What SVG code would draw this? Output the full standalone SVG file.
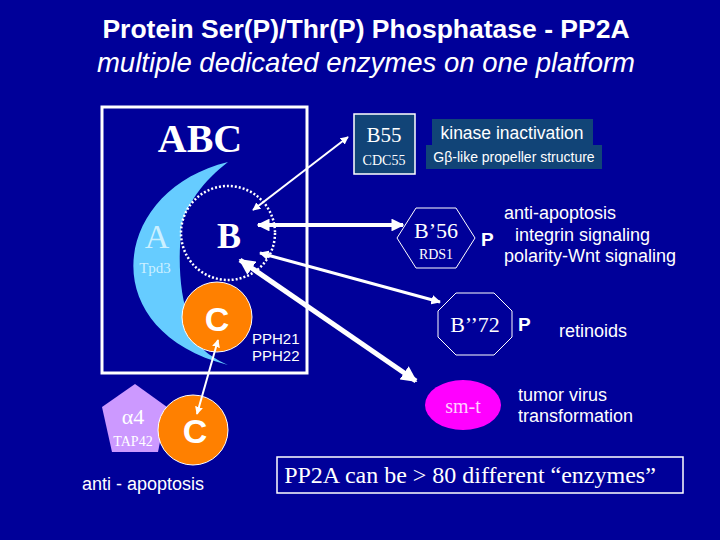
<svg xmlns="http://www.w3.org/2000/svg" width="720" height="540" viewBox="0 0 720 540">
<style>
.w{fill:#fff}
.a{font-family:"Liberation Sans",Arial,sans-serif}
.s{font-family:"Liberation Serif","Times New Roman",serif}
.ln{stroke:#fff;fill:none}
</style>
<defs>
<marker id="h" viewBox="0 0 10 10" refX="9" refY="5" markerWidth="4" markerHeight="4" orient="auto-start-reverse"><path d="M0,0L10,5L0,10z" fill="#fff"/></marker>
<marker id="hb" viewBox="0 0 10 10" refX="9" refY="5" markerWidth="3.2" markerHeight="3.2" orient="auto-start-reverse"><path d="M0,0L10,5L0,10z" fill="#fff"/></marker>
</defs>
<rect width="720" height="540" fill="#000099"/>
<text class="a w" x="366" y="38" font-size="26.5" font-weight="bold" text-anchor="middle">Protein Ser(P)/Thr(P) Phosphatase - PP2A</text>
<text class="a w" x="366" y="72" font-size="27.5" font-style="italic" text-anchor="middle">multiple dedicated enzymes on one platform</text>
<g id="abc">
<rect x="102" y="107" width="205" height="266" class="ln" stroke-width="3"/>
<text class="s w" x="200" y="152" font-size="40" font-weight="bold" text-anchor="middle">ABC</text>
</g>
<g id="A">
<path d="M228,162 C112,190 92,330 228,365 C205,355 190,340 190,320 C180,300 178,260 181,235 C183,205 205,180 228,162Z" fill="#66ccff"/>
<text class="s" x="157" y="248" font-size="34" fill="#ccf0ff" text-anchor="middle">A</text>
<text class="s" x="155" y="273" font-size="15" fill="#ccf0ff" text-anchor="middle">Tpd3</text>
</g>
<g id="B">
<circle cx="228" cy="233" r="47" fill="#000099" stroke="#fff" stroke-width="2.5" stroke-dasharray="2,2"/>
<text class="s w" x="229" y="248" font-size="36" font-weight="bold" text-anchor="middle">B</text>
</g>
<g id="C1">
<circle cx="217" cy="317" r="35" fill="#ff8000" stroke="#fff" stroke-width="1"/>
<text class="a w" x="217" y="331" font-size="34" font-weight="bold" text-anchor="middle">C</text>
<text class="a w" x="252" y="344" font-size="15">PPH21</text>
<text class="a w" x="252" y="361" font-size="15">PPH22</text>
</g>
<g id="alpha4">
<polygon points="135,384 167,407 158,452 112,452 102,407" fill="#cc99ff"/>
<text class="s w" x="133" y="424" font-size="22" text-anchor="middle">α4</text>
<text class="s w" x="133" y="446" font-size="14" text-anchor="middle">TAP42</text>
</g>
<g id="C2">
<circle cx="193" cy="430" r="35" fill="#ff8000" stroke="#fff" stroke-width="1"/>
<text class="a w" x="195" y="443" font-size="34" font-weight="bold" text-anchor="middle">C</text>
<text class="a w" x="143" y="490" font-size="18" text-anchor="middle">anti - apoptosis</text>
</g>
<g id="B55">
<rect x="354" y="114" width="61" height="60" fill="#114477" stroke="#fff" stroke-width="1.5"/>
<text class="s w" x="384" y="142" font-size="21" text-anchor="middle">B55</text>
<text class="s w" x="384" y="165" font-size="14" text-anchor="middle">CDC55</text>
<rect x="432" y="119" width="161" height="26" fill="#114477"/>
<rect x="426" y="145" width="176" height="24" fill="#114477"/>
<text class="a w" x="512" y="139" font-size="17.5" text-anchor="middle">kinase inactivation</text>
<text class="a w" x="514" y="162" font-size="14" text-anchor="middle">Gβ-like propeller structure</text>
</g>
<g id="B56">
<polygon points="397,238 416,208 456,208 475,238 456,268 416,268" fill="none" stroke="#fff" stroke-width="1"/>
<text class="s w" x="436" y="238" font-size="22" text-anchor="middle">B’56</text>
<text class="s w" x="436" y="259" font-size="14" text-anchor="middle">RDS1</text>
<text class="a w" x="481" y="246" font-size="19" font-weight="bold">P</text>
<text class="a w" x="504" y="219" font-size="18">anti-apoptosis</text>
<text class="a w" x="515" y="241" font-size="18">integrin signaling</text>
<text class="a w" x="504" y="262" font-size="18">polarity-Wnt signaling</text>
</g>
<g id="B72">
<polygon points="456,293 494,293 512,311 512,337 494,355 456,355 438,337 438,311" fill="none" stroke="#fff" stroke-width="1"/>
<text class="s w" x="475" y="332" font-size="22" text-anchor="middle">B’’72</text>
<text class="a w" x="518" y="331" font-size="19" font-weight="bold">P</text>
<text class="a w" x="559" y="337" font-size="18">retinoids</text>
</g>
<g id="smt">
<ellipse cx="463" cy="405" rx="38" ry="25" fill="#ff00ff"/>
<text class="s" x="463" y="413" font-size="20" fill="#ffccff" text-anchor="middle">sm-t</text>
<text class="a w" x="518" y="401" font-size="18">tumor virus</text>
<text class="a w" x="518" y="422" font-size="18">transformation</text>
</g>
<g id="note">
<rect x="277" y="457" width="406" height="36" fill="none" stroke="#fff" stroke-width="1.5"/>
<text class="s w" x="470" y="483" font-size="24" text-anchor="middle">PP2A can be &gt; 80 different “enzymes”</text>
</g>
<g id="connectors">
<line x1="253" y1="210" x2="348" y2="137" class="ln" stroke-width="2" marker-start="url(#h)" marker-end="url(#h)"/>
<line x1="258" y1="225" x2="403" y2="225" class="ln" stroke-width="4" marker-start="url(#hb)" marker-end="url(#hb)"/>
<line x1="260" y1="253" x2="440" y2="302" class="ln" stroke-width="3" marker-start="url(#hb)" marker-end="url(#hb)"/>
<line x1="240" y1="260" x2="416" y2="381" class="ln" stroke-width="5" marker-start="url(#hb)" marker-end="url(#hb)"/>
<line x1="218" y1="340" x2="197" y2="414" class="ln" stroke-width="2" marker-start="url(#h)" marker-end="url(#h)"/>
</g>
</svg>
